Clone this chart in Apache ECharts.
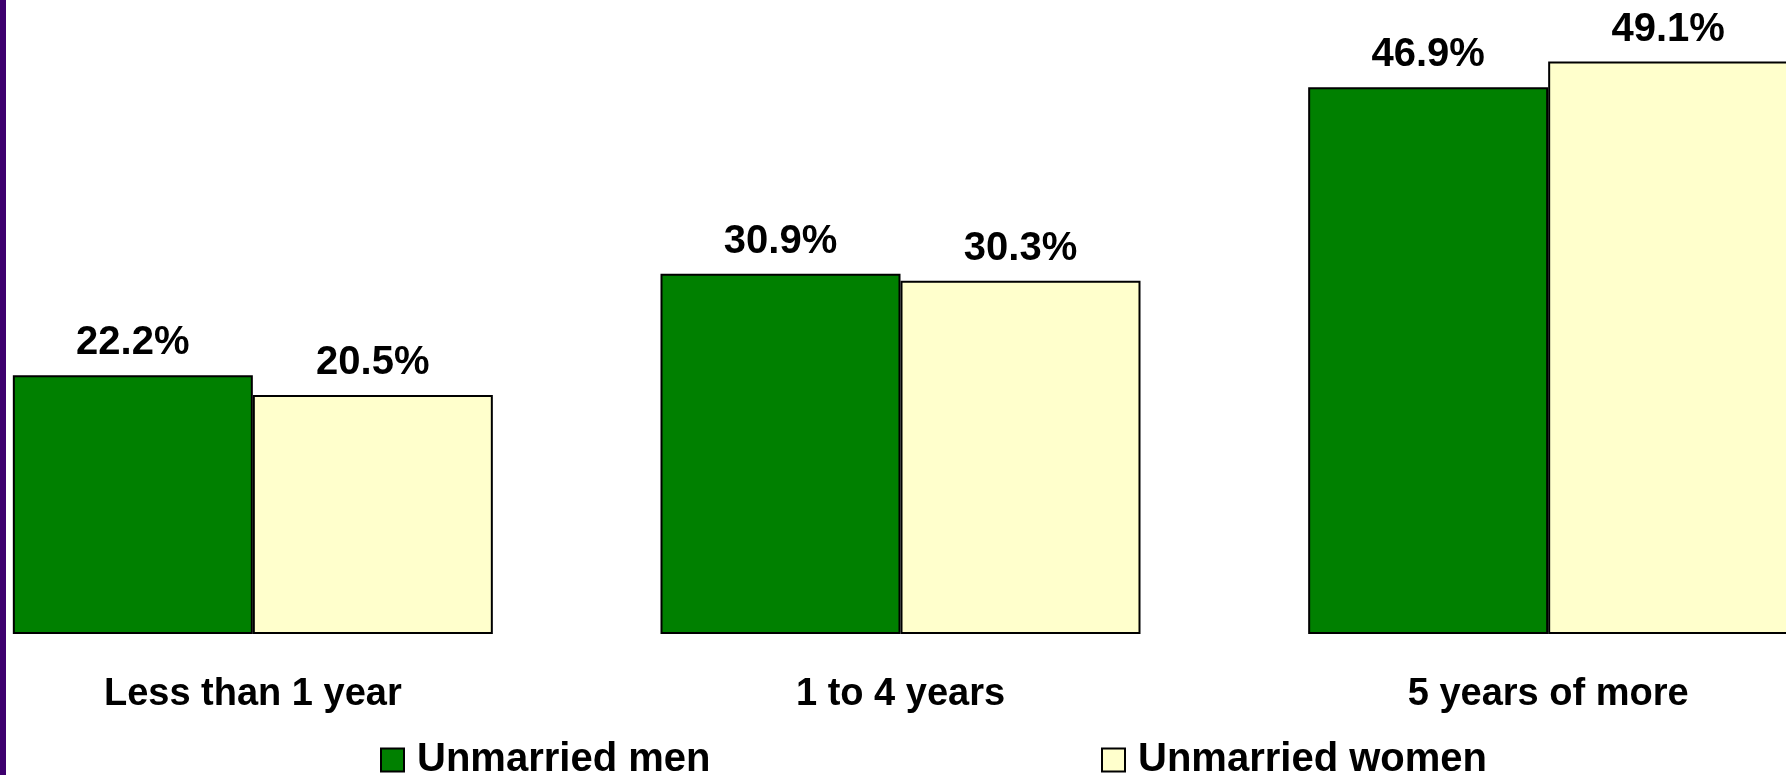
<!DOCTYPE html>
<html>
<head>
<meta charset="utf-8">
<title>Unmarried men and women</title>
<script src="https://cdn.jsdelivr.net/npm/echarts@6/dist/echarts.min.js"></script>
<style>
  html, body { margin: 0; padding: 0; background: #ffffff; overflow: hidden; }
  /* the plot runs past both edges of the picture, so the chart box is wider than the page */
  #chart { width: 1943px; height: 775px; margin-left: -71px; }
</style>
</head>
<body>
<div id="chart"></div>
<script>
// data
const categories = ['Less than 1 year', '1 to 4 years', '5 years of more'];
const menValues = [22.2, 30.9, 46.9];
const womenValues = [20.5, 30.3, 49.1];
const seriesNames = ['Unmarried men', 'Unmarried women'];

const FONT = '"Liberation Sans", Arial, sans-serif';
const SHIFT = 71; // page x = chart x - SHIFT

const chart = echarts.init(document.getElementById('chart'));

const labelStyle = {
  show: true,
  position: 'top',
  distance: 12,
  formatter: p => p.value.toFixed(1) + '%',
  color: '#000',
  fontFamily: FONT,
  fontWeight: 'bold',
  fontSize: 40
};

const legendText = {
  color: '#000',
  fontFamily: FONT,
  fontWeight: 'bold',
  fontSize: 40,
  padding: [0, 0, 0, 8]
};

const option = {
  backgroundColor: '#ffffff',
  animation: false,
  // purple stripe at the left edge
  graphic: [{
    type: 'rect',
    left: SHIFT, top: 0,
    shape: { width: 6, height: 775 },
    style: { fill: '#3d006e' },
    z: 100
  }],
  legend: [
    {
      data: [seriesNames[0]],
      left: 375 + SHIFT, top: 735,
      itemWidth: 23, itemHeight: 23,
      icon: 'rect',
      itemStyle: { borderColor: '#000', borderWidth: 2 },
      textStyle: legendText
    },
    {
      data: [seriesNames[1]],
      left: 1096 + SHIFT, top: 735,
      itemWidth: 23, itemHeight: 23,
      icon: 'rect',
      itemStyle: { borderColor: '#000', borderWidth: 2 },
      textStyle: legendText
    }
  ],
  grid: {
    left: 0,
    right: 0,
    top: 51,
    bottom: 141,
    containLabel: false
  },
  xAxis: {
    type: 'category',
    data: categories,
    axisLine: { show: false },
    axisTick: { show: false },
    axisLabel: {
      color: '#000',
      fontFamily: FONT,
      fontWeight: 'bold',
      fontSize: 38,
      margin: 42
    }
  },
  yAxis: {
    type: 'value',
    min: 0,
    max: 50,
    show: false,
    splitLine: { show: false }
  },
  series: [
    {
      name: seriesNames[0],
      type: 'bar',
      data: menValues,
      barWidth: 240,
      barGap: '0%',
      itemStyle: { color: '#008000', borderColor: '#000', borderWidth: 2 },
      label: labelStyle
    },
    {
      name: seriesNames[1],
      type: 'bar',
      data: womenValues,
      barWidth: 240,
      barGap: '0%',
      itemStyle: { color: '#ffffcc', borderColor: '#000', borderWidth: 2 },
      label: labelStyle
    }
  ]
};

chart.setOption(option);
</script>
</body>
</html>
